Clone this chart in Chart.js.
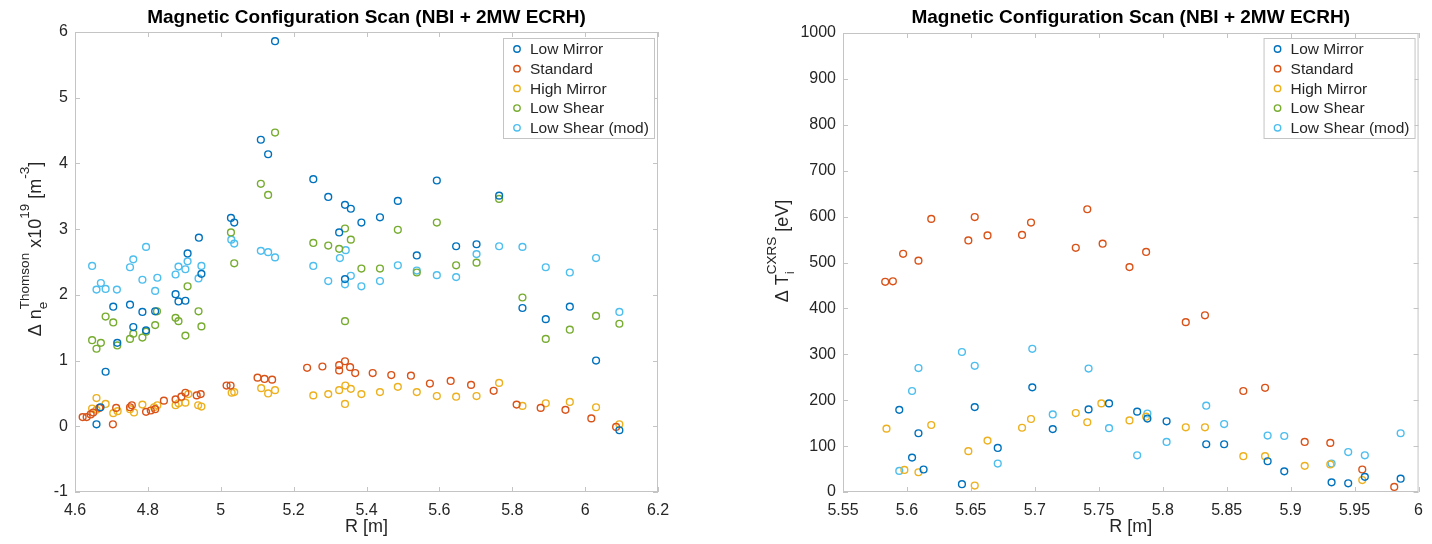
<!DOCTYPE html>
<html>
<head>
<meta charset="utf-8">
<script src="https://cdn.jsdelivr.net/npm/chart.js@4.4.1/dist/chart.umd.min.js"></script>
<style>
  html, body { margin: 0; padding: 0; background: #fff; }
  .panel { position: absolute; top: 0; width: 716px; height: 544px; }
</style>
</head>
<body>
<div class="panel" style="left:0"><canvas id="ne-chart" width="716" height="544"></canvas></div>
<div class="panel" style="left:716px"><canvas id="ti-chart" width="716" height="544"></canvas></div>
<script>
// series names + matlab default colours
const seriesNames = ["Low Mirror", "Standard", "High Mirror", "Low Shear", "Low Shear (mod)"]
const seriesColors = ["#0072BD", "#D95319", "#EDB120", "#77AC30", "#4DBEEE"]

// left panel: density change vs R (x10^19 m^-3)
const neLowMirrorR = [5.149,5.110,5.130,5.254,5.295,5.341,5.357,5.386,5.437,5.325,5.028,5.037,4.940,4.909,4.705,4.751,4.785,4.820,4.760,4.795,4.716,4.684,4.876,4.884,4.903,4.947,5.341,4.670,4.659,6.094,5.828,5.892,5.958,6.030,5.593,5.486,5.764,5.646,5.702,5.538]
const neLowMirror  = [5.86,4.36,4.14,3.76,3.49,3.37,3.31,3.10,3.18,2.95,3.17,3.10,2.87,2.63,1.82,1.85,1.74,1.75,1.51,1.46,1.27,0.83,2.01,1.90,1.91,2.32,2.24,0.29,0.03,-0.06,1.80,1.63,1.82,1.00,3.74,3.43,3.51,2.74,2.77,2.60]
const neStandardR = [4.621,4.632,4.643,4.650,4.667,4.704,4.713,4.751,4.756,4.795,4.808,4.820,4.844,4.876,4.892,4.903,4.934,4.945,5.016,5.027,5.101,5.120,5.141,5.237,5.279,5.325,5.341,5.325,5.355,5.369,5.417,5.468,5.522,5.574,5.631,5.687,5.749,5.812,5.878,5.946,6.017,6.085]
const neStandard  = [0.14,0.14,0.18,0.21,0.28,0.03,0.28,0.29,0.32,0.22,0.24,0.26,0.39,0.41,0.45,0.51,0.47,0.49,0.62,0.62,0.74,0.72,0.71,0.89,0.91,0.93,0.99,0.85,0.90,0.81,0.81,0.78,0.77,0.65,0.69,0.63,0.54,0.33,0.28,0.25,0.12,-0.01]
const neHighMirrorR = [4.647,4.659,4.659,4.684,4.705,4.717,4.751,4.762,4.785,4.817,4.826,4.876,4.884,4.903,4.911,4.938,4.947,5.030,5.037,5.111,5.130,5.149,5.254,5.295,5.325,5.342,5.357,5.341,5.386,5.437,5.486,5.538,5.593,5.646,5.702,5.764,5.828,5.892,5.958,6.030,6.094]
const neHighMirror  = [0.27,0.43,0.25,0.34,0.20,0.23,0.26,0.21,0.33,0.29,0.32,0.32,0.35,0.36,0.49,0.32,0.30,0.51,0.52,0.58,0.50,0.55,0.47,0.49,0.55,0.62,0.57,0.34,0.49,0.52,0.60,0.52,0.46,0.45,0.46,0.66,0.31,0.35,0.37,0.29,0.03]
const neLowShearR = [5.149,5.110,5.130,5.341,5.357,5.325,5.254,5.295,5.386,5.437,5.028,5.037,4.909,4.876,4.884,4.903,4.939,4.947,4.825,4.684,4.705,4.647,4.659,4.671,4.716,4.751,4.760,4.785,4.795,4.820,5.341,5.593,5.486,5.764,5.646,5.702,5.538,5.828,5.892,5.958,6.030,6.094]
const neLowShear  = [4.47,3.69,3.52,3.01,2.84,2.70,2.79,2.75,2.40,2.40,2.95,2.48,2.13,1.65,1.60,1.38,1.75,1.52,1.75,1.67,1.58,1.31,1.18,1.27,1.23,1.33,1.41,1.35,1.44,1.54,1.60,3.10,2.99,3.46,2.45,2.49,2.34,1.96,1.33,1.47,1.68,1.56]
const neLowShearModR = [5.343,5.327,5.254,5.029,5.037,5.110,5.130,5.149,4.909,4.795,4.760,4.647,4.751,4.884,4.947,4.671,4.659,4.684,4.715,4.785,4.826,4.820,4.876,4.903,4.939,5.295,5.341,5.357,5.386,5.437,5.486,5.538,5.593,5.646,5.702,5.892,5.958,6.030,5.764,5.828,6.094]
const neLowShearMod  = [2.68,2.56,2.44,2.84,2.78,2.67,2.65,2.57,2.51,2.73,2.54,2.44,2.42,2.43,2.44,2.18,2.08,2.09,2.08,2.23,2.26,2.06,2.31,2.39,2.25,2.21,2.16,2.29,2.13,2.21,2.45,2.37,2.30,2.27,2.62,2.42,2.34,2.56,2.74,2.73,1.74]

// right panel: ion temperature change vs R (eV)
const tiLowMirrorR = [5.594,5.609,5.604,5.613,5.643,5.653,5.671,5.698,5.714,5.742,5.758,5.780,5.788,5.803,5.834,5.848,5.882,5.895,5.932,5.945,5.958,5.986]
const tiLowMirror  = [179,128,75,49,17,185,96,228,137,180,193,175,160,154,104,104,67,45,21,19,33,29]
const tiStandardR = [5.583,5.589,5.597,5.609,5.619,5.648,5.653,5.663,5.690,5.697,5.732,5.741,5.753,5.774,5.787,5.818,5.833,5.863,5.880,5.911,5.931,5.956,5.981]
const tiStandard  = [458,459,519,504,595,548,599,559,560,587,532,616,541,490,523,370,385,220,227,109,107,49,11]
const tiHighMirrorR = [5.584,5.598,5.609,5.619,5.648,5.653,5.663,5.690,5.697,5.732,5.741,5.752,5.774,5.787,5.818,5.833,5.863,5.880,5.911,5.931,5.956]
const tiHighMirror  = [138,48,43,146,89,14,112,140,159,172,152,193,156,164,141,141,78,78,57,60,26]
const tiLowShearR = []
const tiLowShear  = []
const tiLowShearModR = [5.594,5.604,5.609,5.643,5.653,5.671,5.698,5.714,5.742,5.758,5.780,5.788,5.803,5.834,5.848,5.882,5.895,5.932,5.945,5.958,5.986]
const tiLowShearMod  = [46,220,270,305,275,62,312,169,269,139,80,171,109,188,148,123,122,62,87,80,128]

const FONT = "Helvetica, Arial, 'Liberation Sans', sans-serif"
const TEXT = "#262626"

function toPoints(xs, ys) {
  return xs.map((x, i) => ({ x: x, y: ys[i] }))
}

function makeDatasets(groups) {
  return groups.map((g, i) => ({
    label: seriesNames[i],
    data: toPoints(g[0], g[1]),
    borderColor: seriesColors[i],
    backgroundColor: "rgba(0,0,0,0)",
    pointRadius: 3.4,
    pointHoverRadius: 3.4,
    borderWidth: 1.4,
    showLine: false
  }))
}

// y label with sub/superscripts, drawn rotated
function drawRichLabel(ctx, parts, baseX, centerY) {
  const big = "18px " + FONT, small = "13.5px " + FONT
  ctx.save()
  ctx.translate(baseX, centerY)
  ctx.rotate(-Math.PI / 2)
  ctx.fillStyle = TEXT
  ctx.textBaseline = "alphabetic"
  ctx.textAlign = "left"
  let total = 0
  parts.forEach(p => {
    ctx.font = big
    if (p.t) total += ctx.measureText(p.t).width
    ctx.font = small
    total += Math.max(p.sup ? ctx.measureText(p.sup).width : 0, p.sub ? ctx.measureText(p.sub).width : 0)
  })
  let x = -total / 2
  parts.forEach(p => {
    if (p.t) {
      ctx.font = big
      ctx.fillText(p.t, x, 0)
      x += ctx.measureText(p.t).width
    }
    ctx.font = small
    let w = 0
    if (p.sup) { ctx.fillText(p.sup, x, -12); w = ctx.measureText(p.sup).width }
    if (p.sub) { ctx.fillText(p.sub, x, 6); w = Math.max(w, ctx.measureText(p.sub).width) }
    x += w
  })
  ctx.restore()
}

// box, inward ticks, title, legend, y label - matlab look
const matlabAxes = {
  id: "matlabAxes",
  afterDatasetsDraw(chart, args, opts) {
    const { ctx, chartArea: a, scales } = chart
    const x = scales.x, y = scales.y
    ctx.save()
    ctx.strokeStyle = "#c4c4c4"
    ctx.lineWidth = 1
    ctx.strokeRect(a.left + 0.5, a.top + 0.5, a.right - a.left - 1, a.bottom - a.top - 1)
    ctx.beginPath()
    x.ticks.forEach(t => {
      const px = Math.round(x.getPixelForValue(t.value)) + 0.5
      ctx.moveTo(px, a.bottom); ctx.lineTo(px, a.bottom - 5)
      ctx.moveTo(px, a.top); ctx.lineTo(px, a.top + 5)
    })
    y.ticks.forEach(t => {
      const py = Math.round(y.getPixelForValue(t.value)) + 0.5
      ctx.moveTo(a.left, py); ctx.lineTo(a.left + 5, py)
      ctx.moveTo(a.right, py); ctx.lineTo(a.right - 5, py)
    })
    ctx.stroke()

    // title
    ctx.fillStyle = "#000"
    ctx.font = "bold 19px " + FONT
    ctx.textAlign = "center"
    ctx.textBaseline = "middle"
    ctx.fillText(opts.title, (a.left + a.right) / 2, 18)

    // legend box
    const bw = 151, bh = 100
    const bx = a.right - 4 - bw, by = 38
    ctx.fillStyle = "#fff"
    ctx.fillRect(bx, by, bw, bh)
    ctx.strokeStyle = "#c4c4c4"
    ctx.strokeRect(bx + 0.5, by + 0.5, bw, bh)
    ctx.font = "15.5px " + FONT
    ctx.textAlign = "left"
    chart.data.datasets.forEach((ds, i) => {
      const ry = by + 11 + i * 19.7
      ctx.beginPath()
      ctx.strokeStyle = ds.borderColor
      ctx.lineWidth = 1.4
      ctx.arc(bx + 14, ry, 3.2, 0, Math.PI * 2)
      ctx.stroke()
      ctx.fillStyle = TEXT
      ctx.fillText(ds.label, bx + 27, ry + 1)
    })
    ctx.restore()

    drawRichLabel(ctx, opts.ylabel, opts.ylabelX, opts.ylabelY)
  }
}

function fmt(v) {
  return String(Math.round(v * 100) / 100)
}

function makeChart(id, datasets, xr, yr, plotLeft, padding, plugOpts) {
  return new Chart(id, {
    type: "scatter",
    data: { datasets: datasets },
    plugins: [matlabAxes],
    options: {
      responsive: false,
      animation: false,
      events: [],
      layout: { padding: padding },
      plugins: {
        legend: { display: false },
        tooltip: { enabled: false },
        matlabAxes: plugOpts
      },
      scales: {
        x: {
          type: "linear",
          min: xr[0], max: xr[1],
          grid: { display: false, drawTicks: false },
          border: { display: false },
          ticks: { stepSize: xr[2], autoSkip: false, maxRotation: 0, padding: 9,
                   color: TEXT, font: { size: 16, family: FONT }, callback: fmt },
          title: { display: true, text: "R [m]", color: TEXT,
                   font: { size: 18, family: FONT }, padding: { top: 0, bottom: 6 } },
          afterFit: s => { s.height = 52 }
        },
        y: {
          type: "linear",
          min: yr[0], max: yr[1],
          grid: { display: false, drawTicks: false },
          border: { display: false },
          ticks: { stepSize: yr[2], autoSkip: false, padding: 7,
                   color: TEXT, font: { size: 16, family: FONT }, callback: fmt },
          afterFit: s => { s.width = plotLeft }
        }
      }
    }
  })
}

makeChart("ne-chart",
  makeDatasets([
    [neLowMirrorR, neLowMirror], [neStandardR, neStandard], [neHighMirrorR, neHighMirror],
    [neLowShearR, neLowShear], [neLowShearModR, neLowShearMod]
  ]),
  [4.6, 6.2, 0.2], [-1, 6, 1], 75, { top: 32, right: 58, bottom: 0, left: 0 },
  {
    title: "Magnetic Configuration Scan (NBI + 2MW ECRH)",
    ylabel: [{ t: "\u0394 n", sub: "e", sup: "Thomson" }, { t: " x10", sup: "19" }, { t: " [m", sup: "-3" }, { t: "]" }],
    ylabelX: 41, ylabelY: 249
  })

makeChart("ti-chart",
  makeDatasets([
    [tiLowMirrorR, tiLowMirror], [tiStandardR, tiStandard], [tiHighMirrorR, tiHighMirror],
    [tiLowShearR, tiLowShear], [tiLowShearModR, tiLowShearMod]
  ]),
  [5.55, 6.0, 0.05], [0, 1000, 100], 127, { top: 33, right: 7, bottom: 0, left: 0 },
  {
    title: "Magnetic Configuration Scan (NBI + 2MW ECRH)",
    ylabel: [{ t: "\u0394 T", sub: "i", sup: "CXRS" }, { t: " [eV]" }],
    ylabelX: 72, ylabelY: 251
  })
</script>
</body>
</html>
